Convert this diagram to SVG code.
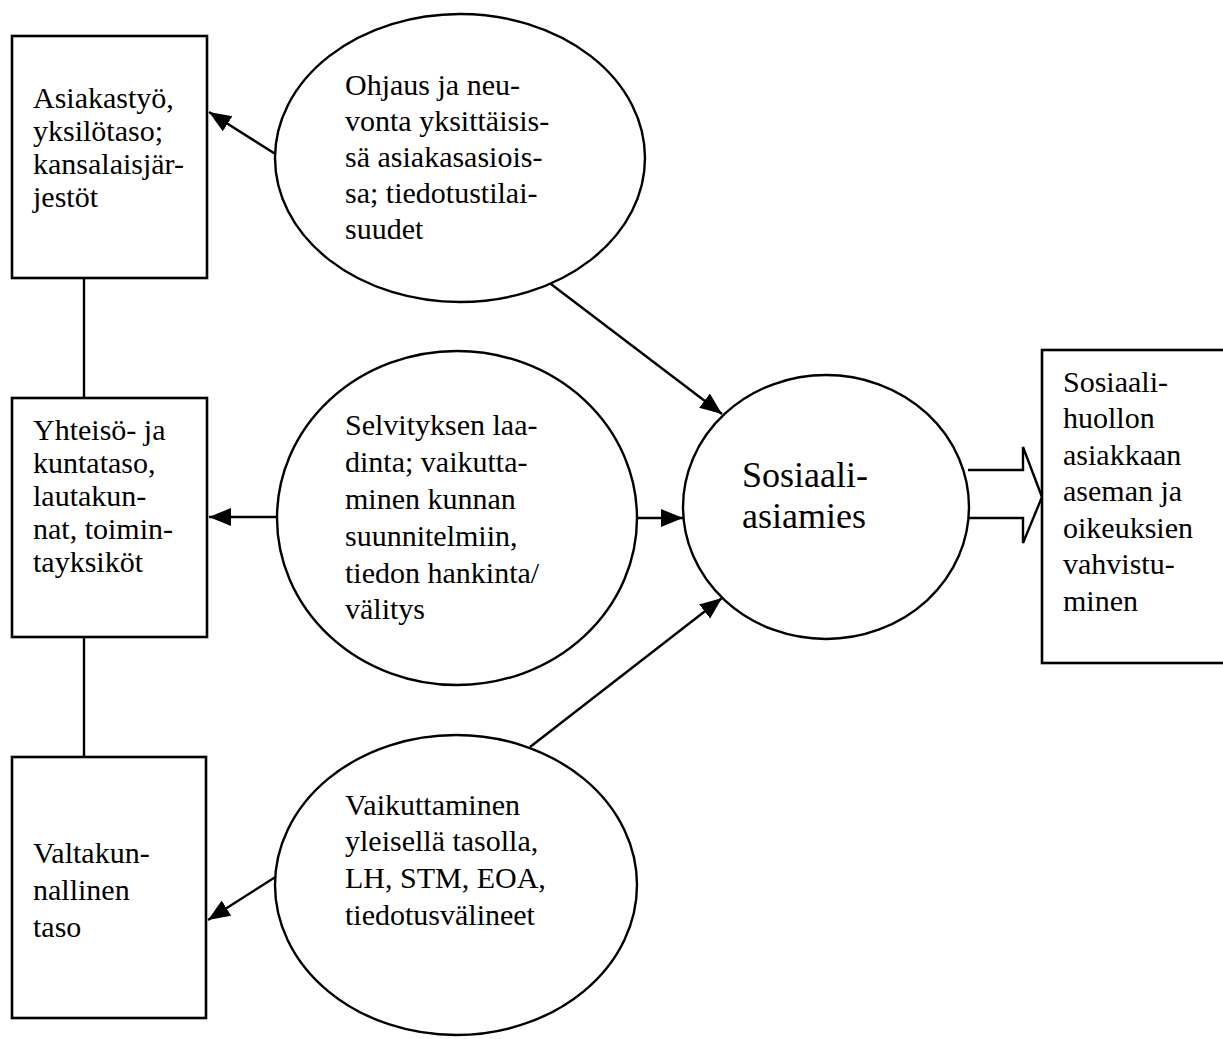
<svg xmlns="http://www.w3.org/2000/svg" width="1223" height="1039" viewBox="0 0 1223 1039">
<style>
  .box{fill:#fff;stroke:#000;stroke-width:2.6}
  .ell{fill:#fff;stroke:#000;stroke-width:2.4}
  .ln{fill:none;stroke:#000;stroke-width:2.4}
  text{font-family:"Liberation Serif","Times New Roman",serif;font-size:30px;fill:#000}
  .big{font-size:36px}
</style>
<defs>
  <marker id="ah" markerUnits="userSpaceOnUse" markerWidth="24" markerHeight="20" refX="22" refY="9" orient="auto">
    <path d="M0,0 L22,9 L0,18 z" fill="#000"/>
  </marker>
</defs>
<rect width="1223" height="1039" fill="#fff"/>
<g id="connectors">
  <line class="ln" x1="84" y1="278" x2="84" y2="398"/>
  <line class="ln" x1="84" y1="637" x2="84" y2="757"/>
  <line class="ln" x1="277" y1="155" x2="209" y2="112" marker-end="url(#ah)"/>
  <line class="ln" x1="277" y1="517" x2="209" y2="517" marker-end="url(#ah)"/>
  <line class="ln" x1="277" y1="876" x2="208" y2="920" marker-end="url(#ah)"/>
  <line class="ln" x1="543" y1="278" x2="722" y2="414" marker-end="url(#ah)"/>
  <line class="ln" x1="637" y1="518" x2="683" y2="518" marker-end="url(#ah)"/>
  <line class="ln" x1="530" y1="747" x2="722" y2="598" marker-end="url(#ah)"/>
  <polyline class="ln" points="968,470 1023,470 1023,447 1042,497 1023,543 1023,518 968,518"/>
</g>
<g id="box-asiakastyo">
  <rect class="box" x="12" y="36" width="195" height="242"/>
  <text x="33" y="108">Asiakastyö,</text>
  <text x="33" y="141">yksilötaso;</text>
  <text x="33" y="174">kansalaisjär-</text>
  <text x="33" y="207">jestöt</text>
</g>
<g id="box-yhteiso">
  <rect class="box" x="12" y="398" width="195" height="239"/>
  <text x="33" y="440">Yhteisö- ja</text>
  <text x="33" y="473">kuntataso,</text>
  <text x="33" y="506">lautakun-</text>
  <text x="33" y="539">nat, toimin-</text>
  <text x="33" y="572">tayksiköt</text>
</g>
<g id="box-valtakunnallinen">
  <rect class="box" x="12" y="757" width="194" height="261"/>
  <text x="33" y="863">Valtakun-</text>
  <text x="33" y="900">nallinen</text>
  <text x="33" y="937">taso</text>
</g>
<g id="ell-ohjaus">
  <ellipse class="ell" cx="460" cy="158" rx="185" ry="144"/>
  <text x="345" y="95">Ohjaus ja neu-</text>
  <text x="345" y="131">vonta yksittäisis-</text>
  <text x="345" y="167">sä asiakasasiois-</text>
  <text x="345" y="203">sa; tiedotustilai-</text>
  <text x="345" y="239">suudet</text>
</g>
<g id="ell-selvitys">
  <ellipse class="ell" cx="457" cy="518" rx="180" ry="167"/>
  <text x="345" y="435">Selvityksen laa-</text>
  <text x="345" y="472">dinta; vaikutta-</text>
  <text x="345" y="509">minen kunnan</text>
  <text x="345" y="546">suunnitelmiin,</text>
  <text x="345" y="583">tiedon hankinta/</text>
  <text x="345" y="619">välitys</text>
</g>
<g id="ell-vaikuttaminen">
  <ellipse class="ell" cx="456" cy="885" rx="181" ry="150"/>
  <text x="345" y="815">Vaikuttaminen</text>
  <text x="345" y="851">yleisellä tasolla,</text>
  <text x="345" y="888">LH, STM, EOA,</text>
  <text x="345" y="925">tiedotusvälineet</text>
</g>
<g id="circle-sosiaaliasiamies">
  <ellipse class="ell" cx="826" cy="507" rx="143" ry="132"/>
  <text class="big" x="742" y="487">Sosiaali-</text>
  <text class="big" x="742" y="528">asiamies</text>
</g>
<g id="box-tulos">
  <rect class="box" x="1042" y="350" width="190" height="313"/>
  <text x="1063" y="392">Sosiaali-</text>
  <text x="1063" y="428">huollon</text>
  <text x="1063" y="465">asiakkaan</text>
  <text x="1063" y="501">aseman ja</text>
  <text x="1063" y="538">oikeuksien</text>
  <text x="1063" y="574">vahvistu-</text>
  <text x="1063" y="611">minen</text>
</g>
</svg>
